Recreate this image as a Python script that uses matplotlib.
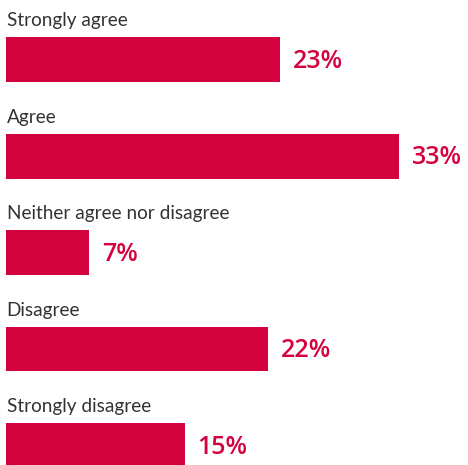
import matplotlib.pyplot as plt

categorias = ['Strongly agree', 'Agree', 'Neither agree nor disagree',
              'Disagree', 'Strongly disagree']
valores = [23, 33, 7, 22, 15]
etiquetas = ['23%', '33%', '7%', '22%', '15%']

rojo = '#D4023F'
gris = '#333333'

fig = plt.figure(figsize=(4.68, 4.65), dpi=100)
ax = fig.add_axes([0, 0, 1, 1])

pos = list(range(len(categorias)))
ax.barh(pos, valores, height=0.466, left=0, color=rojo)

for i, (cat, val, txt) in enumerate(zip(categorias, valores, etiquetas)):
    # nombre de la categoria encima de cada barra
    ax.text(0.05, i - 0.345, cat, ha='left', va='baseline',
            fontsize=13.7, color=gris, family='Lato')
    # porcentaje a la derecha de la barra
    ax.text(val + 1.1, i + 0.02, txt, ha='left', va='center',
            fontsize=18, color=rojo, family='Open Sans',
            fontweight='semibold')

ax.set_xlim(-0.504, 38.82)
ax.set_ylim(4.202, -0.617)
ax.axis('off')

fig.savefig('out.png', dpi=100)
